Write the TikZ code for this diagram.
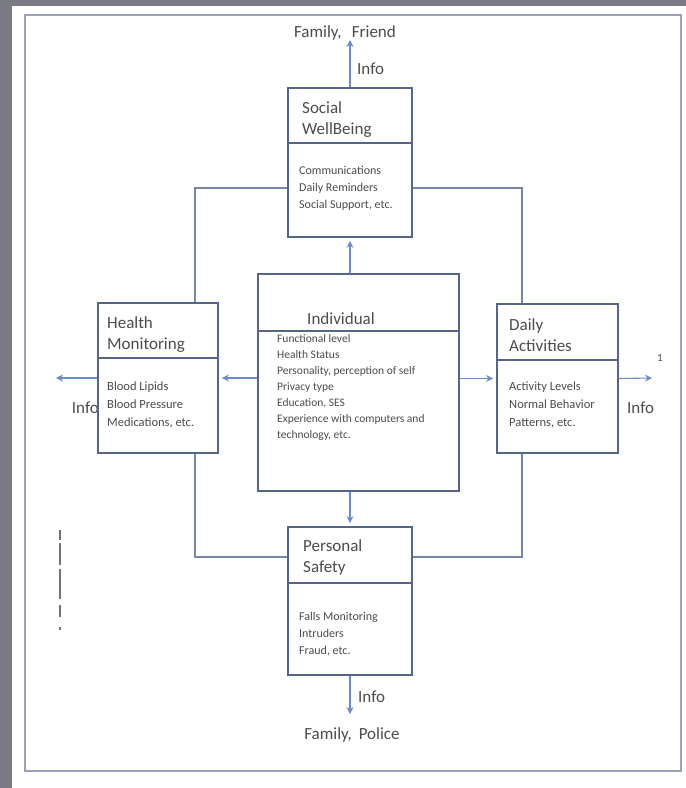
\documentclass[tikz,border=0pt]{standalone}
\usepackage{fontspec}
\setmainfont{Carlito}
\usetikzlibrary{arrows.meta}
\definecolor{pagegray}{HTML}{7A7A82}
\definecolor{framecol}{HTML}{9CA2B6}
\definecolor{boxcol}{HTML}{56658E}
\definecolor{linkcol}{HTML}{7585AC}
\definecolor{flowcol}{HTML}{6A8CCF}
\definecolor{inkcol}{HTML}{4C4C4C}
\begin{document}
\begin{tikzpicture}[x=1pt,y=-1pt,
    box/.style={draw=boxcol,line width=1.8pt,fill=white,inner sep=0pt},
    divider/.style={draw=boxcol,line width=1.1pt},
    link/.style={draw=linkcol,line width=1.1pt},
    flow/.style={draw=flowcol,line width=1.1pt,shorten >=3pt,-{Stealth[length=7pt,width=7pt]}},
    title/.style={anchor=base west,align=left,inner sep=0pt,text=inkcol,font=\fontsize{17}{21}\selectfont},
    items/.style={anchor=base west,align=left,inner sep=0pt,text=inkcol,font=\fontsize{12.5}{18}\selectfont},
    label/.style={inner sep=0pt,text=inkcol,font=\fontsize{17}{21}\selectfont}]
  \useasboundingbox (0,0) rectangle (686,788);
  \fill[pagegray] (0,0) rectangle (686,788);
  \fill[white] (12,6) rectangle (686,788);
  \draw[framecol,line width=1.8pt] (25,15) rectangle (681,771);
  \draw[black!55,line width=2pt,dash pattern=on 10pt off 3pt on 22pt off 4pt on 30pt off 6pt on 12pt] (60,530) -- (60,630);

  \node[box,minimum width=124pt,minimum height=149pt] (social) at (350,162.5) {};
  \node[box,minimum width=124pt,minimum height=148pt] (safety) at (350,601) {};
  \coordinate (ctl) at (195,188);
  \coordinate (ctr) at (522,188);
  \coordinate (cbl) at (195,557);
  \coordinate (cbr) at (522,557);
  \draw[link] (social.west |- ctl) -- (ctl) -- (cbl) -- (safety.west |- cbl);
  \draw[link] (social.east |- ctr) -- (ctr) -- (cbr) -- (safety.east |- cbr);

  \node[label,anchor=base east] (hinfo) at (99,413) {Info};
  \node[box,minimum width=120pt,minimum height=150pt] (health) at (158,378) {};
  \node[box,minimum width=121pt,minimum height=149pt] (daily) at (557.5,378.5) {};
  \node[box,minimum width=201pt,minimum height=217pt] (individual) at (358.5,382.5) {};

  \draw[divider] (social.west |- 0,143) -- (social.east |- 0,143);
  \draw[divider] (individual.west |- 0,331) -- (individual.east |- 0,331);
  \draw[divider] (health.west |- 0,358) -- (health.east |- 0,358);
  \draw[divider] (daily.west |- 0,360) -- (daily.east |- 0,360);
  \draw[divider] (safety.west |- 0,583) -- (safety.east |- 0,583);

  \node[title] (socialname) at (302,134) {Social\\WellBeing};
  \node[items,font=\fontsize{12}{17}\selectfont] (socialtext) at (299,208) {Communications\\Daily Reminders\\Social Support, etc.};
  \node[title,anchor=base] (indname) at (341,324) {Individual};
  \node[items,font=\fontsize{11.5}{16}\selectfont] (indtext) at (277,438) {Functional level\\Health Status\\Personality, perception of self\\Privacy type\\Education, SES\\Experience with computers and\\technology, etc.};
  \node[title] (healthname) at (107,349) {Health\\Monitoring};
  \node[items] (healthtext) at (107,426) {Blood Lipids\\Blood Pressure\\Medications, etc.};
  \node[title] (dailyname) at (509,351) {Daily\\Activities};
  \node[items] (dailytext) at (509,426) {Activity Levels\\Normal Behavior\\Patterns, etc.};
  \node[title] (safetyname) at (303,572) {Personal\\Safety};
  \node[items,font=\fontsize{12}{17}\selectfont] (safetytext) at (299,654) {Falls Monitoring\\Intruders\\Fraud, etc.};

  \coordinate (tout) at (350,40);
  \coordinate (bout) at (350,714);
  \coordinate (lout) at (56,378);
  \coordinate (rout) at (652,378);
  \draw[flow] (individual.north -| social.south) -- (social.south);
  \draw[flow] (individual.south -| safety.north) -- (safety.north);
  \draw[flow] (individual.west |- health.east) -- (health.east);
  \draw[flow] (individual.east |- daily.west) -- (daily.west);
  \draw[flow,shorten >=0pt] (social.north) -- (tout);
  \draw[flow,shorten >=0pt] (safety.south) -- (bout);
  \draw[flow,shorten >=0pt] (health.west) -- (lout);
  \draw[flow,shorten >=0pt] (daily.east) -- (rout);

  \node[label,anchor=base] (friend) at (345,37) {Family,\hspace{0.6em}Friend};
  \node[label,anchor=base west] (tinfo) at (357,74) {Info};
  \node[label,anchor=base west] (dinfo) at (627,413) {Info};
  \node[label,anchor=base west,font=\fontsize{11}{13}\selectfont] (mark) at (657,361) {1};
  \node[label,anchor=base west] (binfo) at (358,702) {Info};
  \node[label,anchor=base] (police) at (352,739) {Family,\hspace{0.4em}Police};
\end{tikzpicture}
\end{document}
